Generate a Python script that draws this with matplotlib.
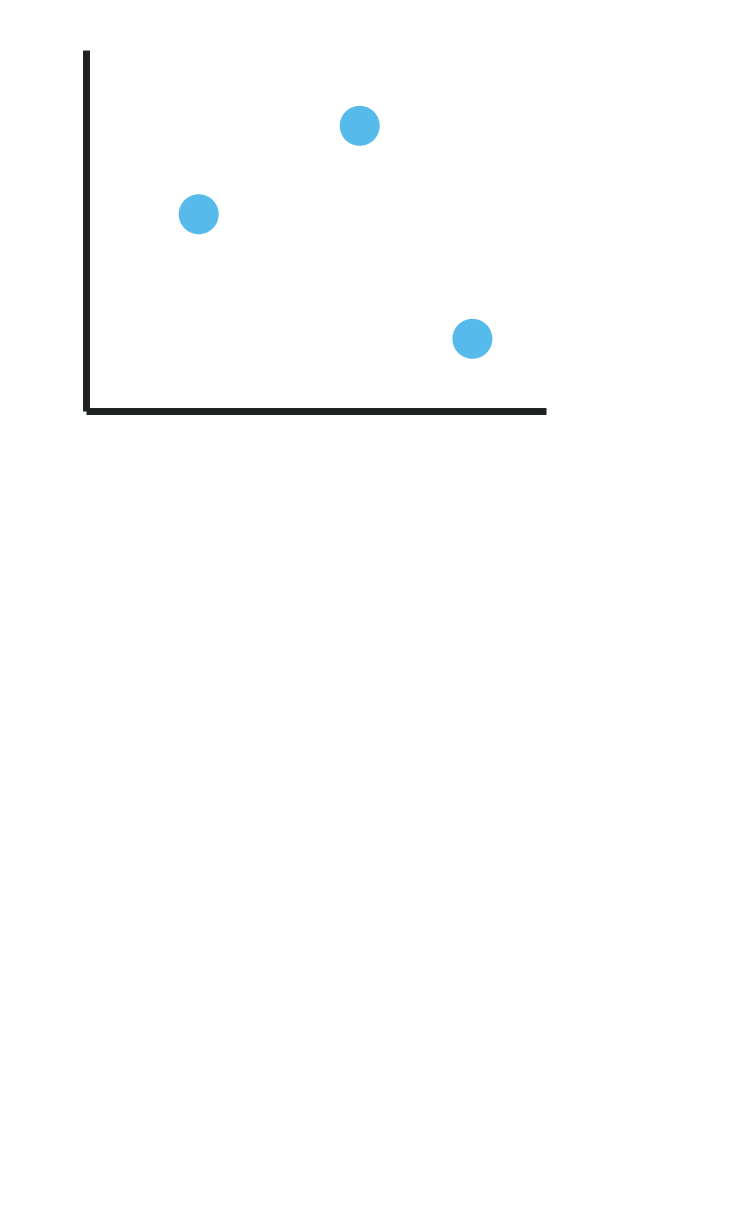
import matplotlib
matplotlib.use("Agg")
import matplotlib.pyplot as plt

# data (axis range 0..10)
x_vals = [2.45, 5.95, 8.4]
y_vals = [5.45, 7.9, 2.0]

fig = plt.figure(figsize=(7.38, 12.14), dpi=100)
ax = fig.add_axes([86 / 738, 1 - 411 / 1214, 460 / 738, 361 / 1214])

ax.scatter(x_vals, y_vals, s=830, color='#56bbeb', edgecolors='none', zorder=3)

ax.set_xlim(0, 10)
ax.set_ylim(0, 10)
for side in ['top', 'right']:
    ax.spines[side].set_visible(False)
for side in ['left', 'bottom']:
    ax.spines[side].set_linewidth(5)
    ax.spines[side].set_color('#1e2122')
    ax.spines[side].set_capstyle('butt')
ax.set_xticks([])
ax.set_yticks([])

fig.savefig('out.png', dpi=100)
